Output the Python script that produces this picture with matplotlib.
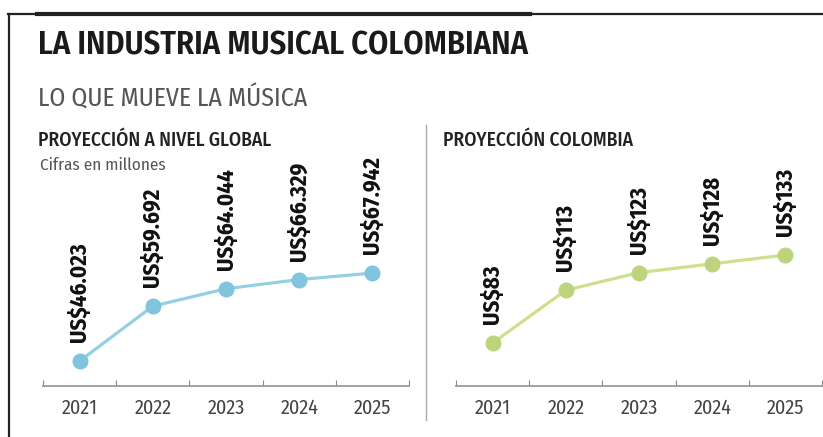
import matplotlib.pyplot as plt
from matplotlib.lines import Line2D

years = ['2021', '2022', '2023', '2024', '2025']
global_values = [46.023, 59.692, 64.044, 66.329, 67.942]
global_labels = ['US$46.023', 'US$59.692', 'US$64.044', 'US$66.329', 'US$67.942']
colombia_values = [83, 113, 123, 128, 133]
colombia_labels = ['US$83', 'US$113', 'US$123', 'US$128', 'US$133']

W, H = 823, 437
NARROW = ['Fira Sans Condensed', 'DejaVu Sans']

fig = plt.figure(figsize=(W / 100, H / 100), dpi=100)
fig.patch.set_facecolor('white')


def fx(px):
    return px / W


def fy(py):
    return 1 - py / H


# frame lines
fig.add_artist(Line2D([fx(8), 1], [fy(14), fy(14)], color='#222222', lw=1.6))
fig.add_artist(Line2D([fx(37), fx(530)], [fy(14), fy(14)], color='#222222', lw=3))
fig.add_artist(Line2D([fx(9), fx(9)], [fy(14), 0], color='#222222', lw=1.6))
fig.add_artist(Line2D([fx(426), fx(426)], [fy(125), fy(420)], color='#aaaaaa', lw=1))

# headers
fig.text(fx(38), fy(46), 'LA INDUSTRIA MUSICAL COLOMBIANA', family=NARROW,
         fontsize=23.3, fontweight='semibold', color='#1a1a1a', va='center')
fig.text(fx(38), fy(99), 'LO QUE MUEVE LA MÚSICA', family=NARROW,
         fontsize=18.5, fontweight='normal', color='#555555', va='center')
fig.text(fx(38), fy(140), 'PROYECCIÓN A NIVEL GLOBAL', family=NARROW,
         fontsize=14, fontweight='medium', color='#222222', va='center')
fig.text(fx(40), fy(165), 'Cifras en millones', family=NARROW,
         fontsize=12.3, fontweight='normal', color='#555555', va='center')
fig.text(fx(443), fy(140), 'PROYECCIÓN COLOMBIA', family=NARROW,
         fontsize=14, fontweight='medium', color='#222222', va='center')


def draw_panel(left_px, values, labels, ylim, line_color, marker_color):
    ax = fig.add_axes([fx(left_px), fy(386), 366 / W, 256 / H])
    x = list(range(len(values)))
    ax.plot(x, values, color=line_color, lw=2.3, marker='o', markersize=10.5,
            markerfacecolor=marker_color, markeredgecolor=marker_color, zorder=3)
    for xi, v, lab in zip(x, values, labels):
        ax.annotate(lab, (xi, v), xytext=(0, 13.5), textcoords='offset points',
                    rotation=90, ha='center', va='bottom', family=NARROW,
                    fontsize=16.5, fontweight='bold', color='#111111')
    ax.set_xlim(-0.5, len(values) - 0.5)
    ax.set_ylim(*ylim)
    ax.set_xticks([i - 0.5 for i in range(len(values) + 1)])
    ax.set_xticklabels([])
    ax.set_xticks(x, minor=True)
    ax.set_xticklabels(years, minor=True, family=NARROW, fontsize=14.5,
                       fontweight='normal', color='#444444')
    ax.tick_params(axis='x', which='major', direction='in', length=4, color='#888888')
    ax.tick_params(axis='x', which='minor', length=0, pad=9)
    ax.set_yticks([])
    for side in ['top', 'right', 'left']:
        ax.spines[side].set_visible(False)
    ax.spines['bottom'].set_color('#999999')
    ax.spines['bottom'].set_linewidth(1.3)
    ax.patch.set_alpha(0)
    return ax


draw_panel(43, global_values, global_labels, (39.8, 103.6), '#95cfe3', '#80c4de')
draw_panel(456, colombia_values, colombia_labels, (58.6, 204), '#cde08f', '#bdd47c')

fig.savefig('out.png', dpi=100)
